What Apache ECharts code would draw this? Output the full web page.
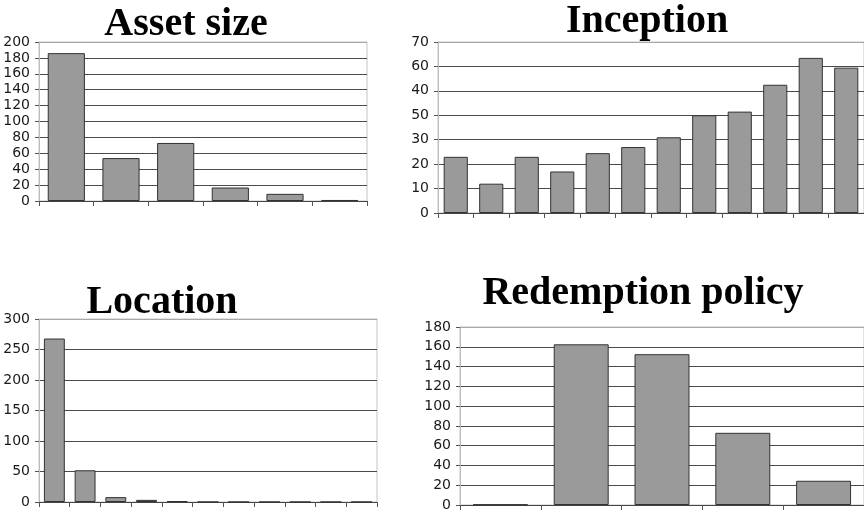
<!DOCTYPE html>
<html>
<head>
<meta charset="utf-8">
<script src="https://cdn.jsdelivr.net/npm/echarts@6/dist/echarts.min.js"></script>
<style>
  html, body { margin: 0; padding: 0; background: #fff; }
  #chart { width: 864px; height: 512px; }
</style>
</head>
<body>
<div id="chart"></div>
<script>
// Fund counts by characteristic
const assetCategories = ['1', '2', '3', '4', '5', '6'];
const assetValues = [186, 54, 73, 17, 9, 1.3];

const inceptionCategories = ['1', '2', '3', '4', '5', '6', '7', '8', '9', '10', '11', '12'];
const inceptionValues = [23, 12, 23, 17, 24.5, 27, 31, 40, 41.5, 52.5, 63.5, 59.5];
// tick labels of the inception axis, bottom to top
const inceptionTickLabels = ['0', '10', '20', '30', '50', '40', '60', '70'];

const locationCategories = ['1', '2', '3', '4', '5', '6', '7', '8', '9', '10', '11'];
const locationValues = [268, 52, 8, 3.5, 1.5, 0, 0, 0, 0, 0, 0];

const redemptionCategories = ['1', '2', '3', '4', '5'];
const redemptionValues = [0.5, 162.5, 152.5, 73, 24.5];

const titles = ['Asset size', 'Inception', 'Location', 'Redemption policy'];

const chart = echarts.init(document.getElementById('chart'), null, { renderer: 'canvas' });

const panels = [
  { cats: assetCategories, vals: assetValues, max: 200, step: 20,
    grid: { left: 39, top: 42, width: 328, height: 159 } },
  { cats: inceptionCategories, vals: inceptionValues, max: 70, step: 10,
    grid: { left: 438, top: 42, width: 428, height: 171 },
    labels: inceptionTickLabels },
  { cats: locationCategories, vals: locationValues, max: 300, step: 50,
    grid: { left: 39, top: 319, width: 338, height: 183 } },
  { cats: redemptionCategories, vals: redemptionValues, max: 180, step: 20,
    grid: { left: 460, top: 327, width: 406, height: 180 } }
];

const titlePos = [[186, 25], [647, 22], [162, 303], [643, 294]];

const grids = [], xAxes = [], yAxes = [], series = [];
panels.forEach((p, i) => {
  grids.push(Object.assign({
    show: true, borderColor: '#c4c4c4', borderWidth: 1, backgroundColor: 'transparent'
  }, p.grid));
  xAxes.push({
    type: 'category', gridIndex: i, data: p.cats, boundaryGap: true,
    axisLine: { show: true, lineStyle: { color: '#444', width: 1 } },
    axisTick: { show: true, length: 5, interval: 0, lineStyle: { color: '#555' } },
    axisLabel: { show: false },
    splitLine: { show: false }
  });
  const nLines = p.max / p.step + 1;
  const lineColors = [];
  for (let k = 0; k < nLines; k++) lineColors.push(k === nLines - 1 ? '#a8a8a8' : '#4a4a4a');
  const tickText = p.labels
    ? (v, idx) => p.labels[idx]
    : (v) => String(v);
  yAxes.push({
    type: 'value', gridIndex: i, min: 0, max: p.max, interval: p.step,
    axisLine: { show: true, lineStyle: { color: '#bdbdbd', width: 1 } },
    axisTick: { show: true, length: 4, lineStyle: { color: '#555' } },
    axisLabel: {
      margin: 9, color: '#1a1a1a', fontFamily: 'DejaVu Sans', fontSize: 14,
      formatter: tickText
    },
    splitLine: { show: true, lineStyle: { color: lineColors, width: 1 } }
  });
  series.push({
    type: 'bar', xAxisIndex: i, yAxisIndex: i, data: p.vals,
    barCategoryGap: '32%',
    itemStyle: { color: '#9a9a9a', borderColor: '#333', borderWidth: 1 },
    emphasis: { disabled: true },
    animation: false
  });
});

const graphics = titles.map((t, i) => ({
  type: 'text', x: titlePos[i][0], y: titlePos[i][1],
  style: {
    text: t, fill: '#000', align: 'center', verticalAlign: 'middle',
    font: 'bold 40px "Liberation Serif", "Times New Roman", serif'
  },
  z: 10
}));

chart.setOption({
  animation: false,
  grid: grids,
  xAxis: xAxes,
  yAxis: yAxes,
  series: series,
  graphic: graphics
});
</script>
</body>
</html>
